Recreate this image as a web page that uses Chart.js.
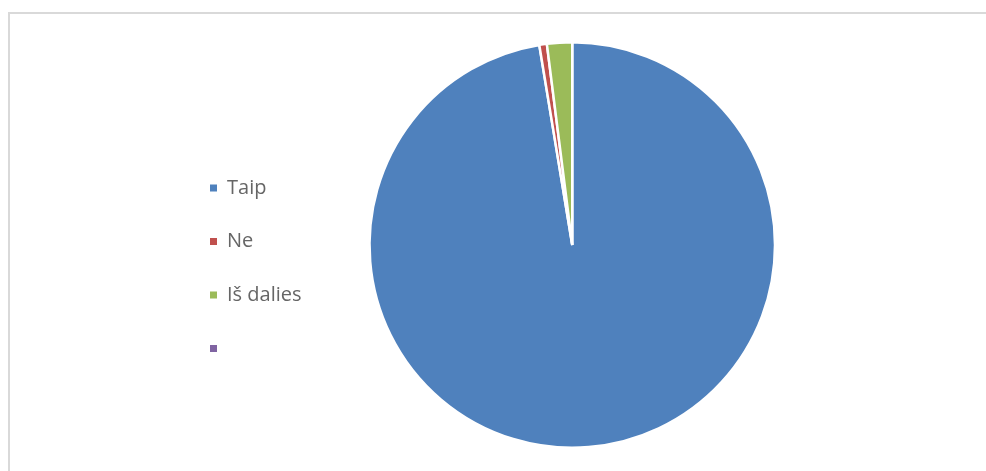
<!DOCTYPE html>
<html>
<head>
<meta charset="utf-8">
<script src="https://cdn.jsdelivr.net/npm/chart.js@4/dist/chart.umd.min.js"></script>
<style>
  html, body { margin: 0; padding: 0; background: #fff; }
  body { width: 986px; height: 471px; position: relative; overflow: hidden; }
  .frame {
    position: absolute; left: 8px; top: 12px; width: 990px; height: 470px;
    border-left: 2px solid #d9d9d9; border-top: 2px solid #d9d9d9;
  }
  .wrap { position: absolute; left: 0; top: 0; width: 986px; height: 471px; }
</style>
</head>
<body>
<div class="frame"></div>
<div class="wrap"><canvas id="chart"></canvas></div>
<script>
// pie answers
const labels = ['Taip', 'Ne', 'Iš dalies', '']
const values = [97.4, 0.6, 2.0, 0]
const colors = ['#4F81BD', '#C0504D', '#9BBB59', '#8064A2']

const ctx = document.getElementById('chart').getContext('2d')

new Chart(ctx, {
  type: 'pie',
  data: {
    labels: labels,
    datasets: [{
      data: values,
      backgroundColor: colors,
      borderColor: '#ffffff',
      borderWidth: 2.5
    }]
  },
  options: {
    responsive: true,
    maintainAspectRatio: false,
    animation: false,
    layout: {
      padding: { top: 41, bottom: 22, left: 176.5, right: 153 }
    },
    plugins: {
      tooltip: { enabled: false },
      legend: {
        display: true,
        position: 'left',
        align: 'center',
        // empty title only pushes the items down a bit
        title: {
          display: true,
          text: ' ',
          padding: { top: 0, bottom: 32 }
        },
        labels: {
          boxWidth: 7,
          boxHeight: 7,
          padding: 33.5,
          color: '#595959',
          font: { family: '"Open Sans", sans-serif', size: 20 },
          generateLabels: (chart) => labels.map((text, i) => ({
            text: text,
            fillStyle: colors[i],
            strokeStyle: colors[i],
            lineWidth: 0,
            hidden: false,
            index: i
          }))
        }
      }
    }
  }
})
</script>
</body>
</html>
